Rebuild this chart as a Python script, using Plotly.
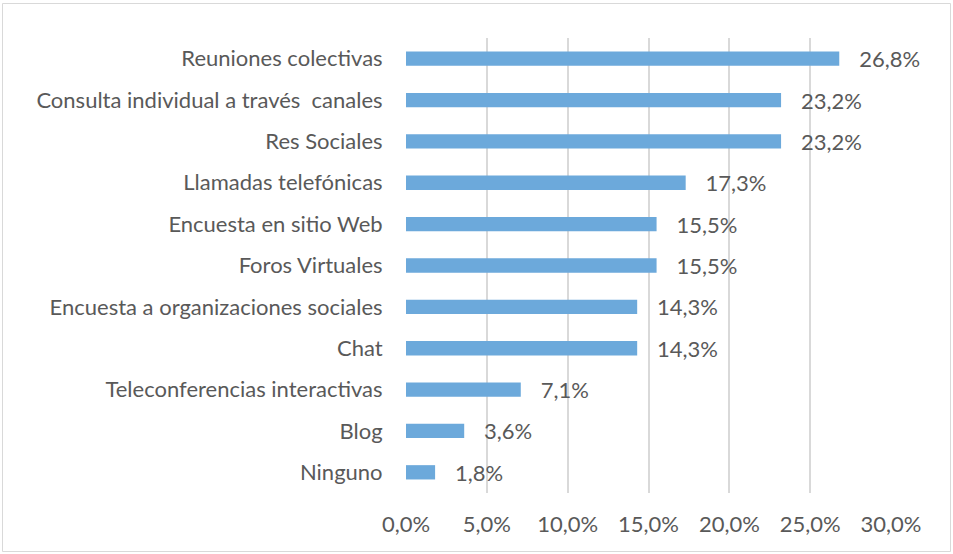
import plotly.graph_objects as go

categories = [
    "Reuniones colectivas",
    "Consulta individual a través\u00a0 canales",
    "Res Sociales",
    "Llamadas telefónicas",
    "Encuesta en sitio Web",
    "Foros Virtuales",
    "Encuesta a organizaciones sociales",
    "Chat",
    "Teleconferencias interactivas",
    "Blog",
    "Ninguno",
]
values = [26.8, 23.2, 23.2, 17.3, 15.5, 15.5, 14.3, 14.3, 7.1, 3.6, 1.8]
tick_vals = [0, 5, 10, 15, 20, 25, 30]

font_family = "Lato, 'Open Sans', sans-serif"
text_color = "#595959"
FS = 22

fig = go.Figure(
    go.Bar(
        x=values,
        y=categories,
        orientation="h",
        marker=dict(color="#6CA9DB", line=dict(width=0)),
        width=0.346,
        text=["\u00a0\u00a0\u00a0" + f"{v:.1f}%".replace(".", ",") for v in values],
        textposition="outside",
        constraintext="none",
        textfont=dict(size=FS, color=text_color, family=font_family),
        cliponaxis=False,
        hoverinfo="skip",
    )
)

W, H = 953, 554
l, r, t, b = 406, 62, 38, 61
pw = W - l - r
ph = H - t - b

def px_x(x):
    return (x - l) / pw

def px_y(y):
    return (H - b - y) / ph

fig.add_shape(
    type="rect", xref="paper", yref="paper",
    x0=px_x(2.5), x1=px_x(950.5), y0=px_y(551.5), y1=px_y(3.5),
    line=dict(color="#D9D9D9", width=1), fillcolor="rgba(0,0,0,0)", layer="below",
)

fig.update_layout(
    width=W, height=H,
    margin=dict(l=l, r=r, t=t, b=b),
    paper_bgcolor="white", plot_bgcolor="white",
    separators=",.",
    showlegend=False,
    font=dict(family=font_family, size=FS, color=text_color),
    xaxis=dict(
        range=[0, 30], tickvals=tick_vals,
        ticktext=[f"{v:.1f}%".replace(".", ",") for v in tick_vals],
        showgrid=True, gridcolor="#D9D9D9", gridwidth=2,
        zeroline=False, showline=False,
        ticks="outside", ticklen=12, tickcolor="rgba(0,0,0,0)",
        tickfont=dict(size=FS, color=text_color),
    ),
    yaxis=dict(
        categoryorder="array", categoryarray=categories,
        autorange="reversed",
        showgrid=False, zeroline=False, showline=False,
        ticks="outside", ticklen=18, tickcolor="rgba(0,0,0,0)",
        tickfont=dict(size=FS, color=text_color),
    ),
)

fig.write_html(
    "out.html",
    config={"displayModeBar": False},
    post_script="document.body.style.margin='0';document.body.style.padding='0';",
)
